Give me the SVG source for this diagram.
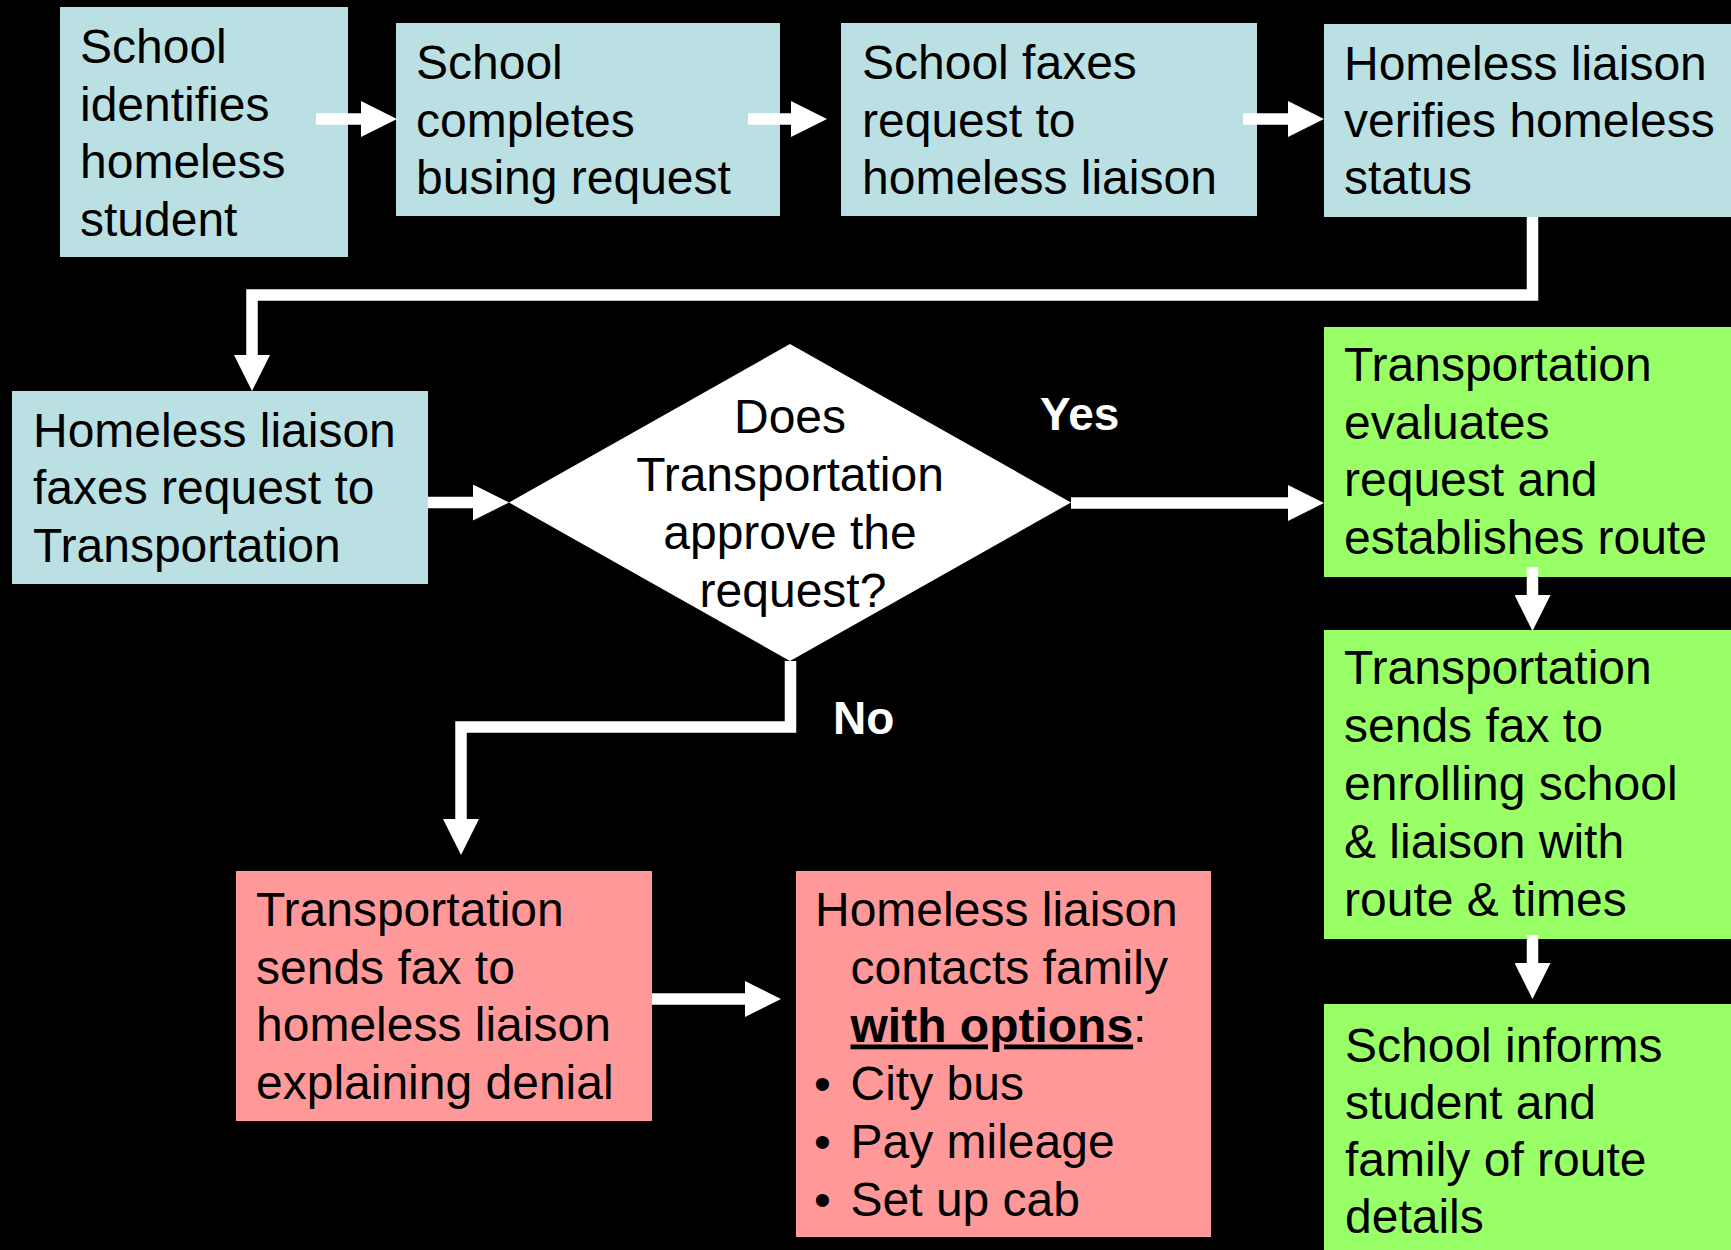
<svg xmlns="http://www.w3.org/2000/svg" width="1731" height="1250" viewBox="0 0 1731 1250">
<style>
.t{font-family:"Liberation Sans",Arial,sans-serif;font-size:48px;fill:#000}
.lbl{font-family:"Liberation Sans",Arial,sans-serif;font-size:46px;font-weight:bold;fill:#fff}
.blue{fill:#BBE0E3}
.green{fill:#99FF66}
.pink{fill:#FF9999}
.c{fill:none;stroke:#fff;stroke-width:11.5;stroke-linejoin:miter}
</style>
<defs>
<marker id="ah" markerUnits="userSpaceOnUse" markerWidth="36" markerHeight="36" viewBox="0 0 36 36" refX="0" refY="18" orient="auto">
<path d="M0,0 L36,18 L0,36 Z" fill="#fff"/>
</marker>
</defs>
<rect x="0" y="0" width="1731" height="1250" fill="#000"/>
<g id="n1">
<rect class="blue" x="60" y="7" width="288" height="250"/>
<text class="t"><tspan x="80" y="63">School</tspan><tspan x="80" y="120.5">identifies</tspan><tspan x="80" y="178">homeless</tspan><tspan x="80" y="235.5">student</tspan></text>
</g>
<g id="n2">
<rect class="blue" x="396" y="23" width="384" height="193"/>
<text class="t"><tspan x="416" y="79">School</tspan><tspan x="416" y="136.5">completes</tspan><tspan x="416" y="194">busing request</tspan></text>
</g>
<g id="n3">
<rect class="blue" x="841" y="23" width="416" height="193"/>
<text class="t"><tspan x="862" y="79">School faxes</tspan><tspan x="862" y="136.5">request to</tspan><tspan x="862" y="194">homeless liaison</tspan></text>
</g>
<g id="n4">
<rect class="blue" x="1324" y="24" width="407" height="193"/>
<text class="t"><tspan x="1344" y="80">Homeless liaison</tspan><tspan x="1344" y="137">verifies homeless</tspan><tspan x="1344" y="194">status</tspan></text>
</g>
<g id="n5">
<rect class="blue" x="12" y="391" width="416" height="193"/>
<text class="t"><tspan x="33" y="446.5">Homeless liaison</tspan><tspan x="33" y="504">faxes request to</tspan><tspan x="33" y="561.5">Transportation</tspan></text>
</g>
<g id="decision">
<polygon points="790,344 1071,502.5 790,661 509,502.5" fill="#fff"/>
<text class="t" text-anchor="middle"><tspan x="790" y="433">Does</tspan><tspan x="790" y="491">Transportation</tspan><tspan x="790" y="549">approve the</tspan><tspan x="793" y="607">request?</tspan></text>
</g>
<g id="n6">
<rect class="green" x="1324" y="327" width="407" height="250"/>
<text class="t"><tspan x="1344" y="381">Transportation</tspan><tspan x="1344" y="438.5">evaluates</tspan><tspan x="1344" y="496">request and</tspan><tspan x="1344" y="553.5">establishes route</tspan></text>
</g>
<g id="n7">
<rect class="green" x="1324" y="630" width="407" height="309"/>
<text class="t"><tspan x="1344" y="683.5">Transportation</tspan><tspan x="1344" y="741.5">sends fax to</tspan><tspan x="1344" y="799.5">enrolling school</tspan><tspan x="1344" y="857.5">&amp; liaison with</tspan><tspan x="1344" y="915.5">route &amp; times</tspan></text>
</g>
<g id="n8">
<rect class="green" x="1324" y="1004" width="407" height="246"/>
<text class="t"><tspan x="1345" y="1061.5">School informs</tspan><tspan x="1345" y="1118.5">student and</tspan><tspan x="1345" y="1175.5">family of route</tspan><tspan x="1345" y="1232.5">details</tspan></text>
</g>
<g id="n9">
<rect class="pink" x="236" y="871" width="416" height="250"/>
<text class="t"><tspan x="256" y="926">Transportation</tspan><tspan x="256" y="983.5">sends fax to</tspan><tspan x="256" y="1041">homeless liaison</tspan><tspan x="256" y="1099">explaining denial</tspan></text>
</g>
<g id="n10">
<rect class="pink" x="796" y="871" width="415" height="366"/>
<text class="t"><tspan x="815" y="926">Homeless liaison</tspan><tspan x="850.5" y="983.5">contacts family</tspan><tspan x="850.5" y="1041.5"><tspan font-weight="bold" text-decoration="underline">with options</tspan>:</tspan></text>
<text class="t"><tspan x="814" y="1099.5">•</tspan><tspan x="850.5" y="1099.5">City bus</tspan><tspan x="814" y="1157.5">•</tspan><tspan x="850.5" y="1157.5">Pay mileage</tspan><tspan x="814" y="1215.5">•</tspan><tspan x="850.5" y="1215.5">Set up cab</tspan></text>
</g>
<g id="connectors">
<path class="c" d="M316,119 H361" marker-end="url(#ah)"/>
<path class="c" d="M748,119 H791" marker-end="url(#ah)"/>
<path class="c" d="M1243,119 H1288" marker-end="url(#ah)"/>
<path class="c" d="M1532.5,217 V295 H252 V355" marker-end="url(#ah)"/>
<path class="c" d="M428,502.5 H473" marker-end="url(#ah)"/>
<path class="c" d="M1071,503 H1288" marker-end="url(#ah)"/>
<path class="c" d="M790.5,661 V727 H461 V819" marker-end="url(#ah)"/>
<path class="c" d="M652,999 H745" marker-end="url(#ah)"/>
<path class="c" d="M1532.5,567 V595" marker-end="url(#ah)"/>
<path class="c" d="M1532.5,935 V963" marker-end="url(#ah)"/>
<text class="lbl" x="1040" y="430">Yes</text>
<text class="lbl" x="833" y="734">No</text>
</g>
</svg>
